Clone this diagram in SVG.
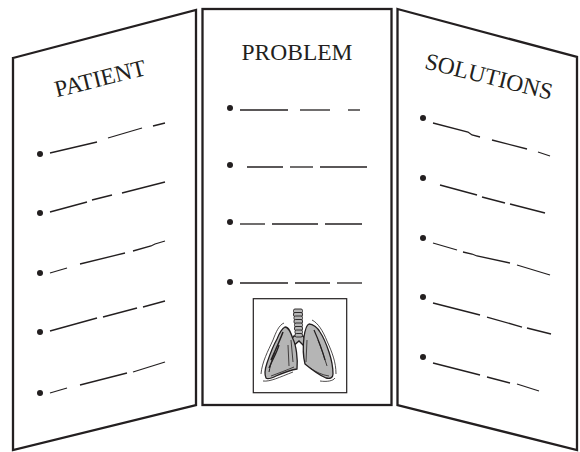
<svg xmlns="http://www.w3.org/2000/svg" width="580" height="452" viewBox="0 0 580 452">
<style>
.panel{fill:#fff;stroke:#231f20;stroke-width:2.3;stroke-linejoin:miter}
.t{font-family:"Liberation Serif","Times New Roman",serif;font-size:23.5px;fill:#231f20;text-anchor:middle}
.d{stroke:#231f20;stroke-width:1.3;fill:none;stroke-linecap:butt}
.b{fill:#231f20}
.lung{fill:#b5b5b5;stroke:#231f20;stroke-width:1.3}
.sk{stroke:#231f20;stroke-width:0.8;fill:none}
</style>
<rect width="580" height="452" fill="#fff"/>

<g id="panel-patient">
<polygon class="panel" points="13,58 196,10 196,405 13,450"/>
<text class="t" x="102" y="86" transform="rotate(-14 102 86)">PATIENT</text>
<g class="b">
<circle cx="40" cy="154" r="3"/><circle cx="40" cy="213" r="3"/><circle cx="40" cy="273" r="3"/><circle cx="40" cy="332" r="3"/><circle cx="40" cy="393" r="3"/>
</g>
<g class="d">
<line x1="50" y1="153" x2="97" y2="142"/><line x1="108" y1="138" x2="142" y2="128"/><line x1="153" y1="126" x2="165" y2="123"/>
<line x1="50" y1="212" x2="87" y2="202"/><line x1="92" y1="200" x2="112" y2="195"/><line x1="122" y1="193" x2="165" y2="182"/>
<line x1="50" y1="273" x2="67" y2="268"/><line x1="80" y1="264" x2="125" y2="253"/><polyline points="133,251 151,246 155,244 165,241"/>
<line x1="50" y1="331" x2="97" y2="318"/><line x1="103" y1="317" x2="137" y2="308"/><line x1="143" y1="307" x2="165" y2="301"/>
<line x1="50" y1="393" x2="67" y2="388"/><line x1="80" y1="385" x2="127" y2="373"/><line x1="133" y1="372" x2="165" y2="362"/>
</g>
</g>

<g id="panel-problem">
<rect class="panel" x="202.5" y="9" width="189" height="396" stroke-width="2.5"/>
<text class="t" x="297" y="60">PROBLEM</text>
<g class="b">
<circle cx="230" cy="108" r="3"/><circle cx="230" cy="165" r="3"/><circle cx="230" cy="222" r="3"/><circle cx="230" cy="282" r="3"/>
</g>
<g class="d">
<line x1="240" y1="110" x2="288" y2="110"/><line x1="300" y1="110" x2="330" y2="110"/><line x1="348" y1="110" x2="360" y2="110"/>
<line x1="247" y1="167" x2="283" y2="167"/><line x1="290" y1="167" x2="313" y2="167"/><line x1="320" y1="167" x2="367" y2="167"/>
<line x1="240" y1="224" x2="265" y2="224"/><line x1="272" y1="224" x2="318" y2="224"/><line x1="325" y1="224" x2="362" y2="224"/>
<line x1="240" y1="283" x2="288" y2="283"/><line x1="295" y1="283" x2="330" y2="283"/><line x1="337" y1="283" x2="362" y2="283"/>
</g>
</g>

<g id="lungs">
<rect x="253.3" y="298.7" width="93.4" height="94" fill="#fff" stroke="#231f20" stroke-width="1.2"/>
<path class="lung" d="M294,336 L303,336 L308,343 L305,347 L299,341 L292,347 L288,343 Z"/>
<g fill="#b5b5b5" stroke="#231f20" stroke-width="0.9">
<rect x="293.5" y="309" width="9" height="4" rx="1.5"/>
<rect x="293.5" y="312.5" width="9" height="4" rx="1.5"/>
<rect x="294" y="316" width="8.5" height="4" rx="1.5"/>
<rect x="294" y="319.5" width="8.5" height="4" rx="1.5"/>
<rect x="294.5" y="323" width="8" height="4" rx="1.5"/>
<rect x="294.5" y="326.5" width="8" height="4" rx="1.5"/>
<rect x="295" y="330" width="7.5" height="4" rx="1.5"/>
<rect x="295" y="333.5" width="7.5" height="3.5" rx="1.5"/>
</g>
<path class="lung" d="M285,327 C281,329 279,334 277,339 C273,346 270,354 267,363 C265,369 264,374 266,378 C268,380 272,378 276,376 C283,373 290,370 297,369 C298,358 296,345 293,339 C291,333 289,327 285,327 Z"/>
<path class="lung" d="M309,324 C313,324 318,328 320,332 C324,338 327,346 329,352 C331,358 333,366 333,374 C333,378 330,379 326,378 C319,375 311,369 305,364 C303,356 303,345 304,337 C305,330 306,325 309,324 Z"/>
<g class="sk">
<path d="M284,323 C279,325 276,332 273,340 C268,351 262,362 261,374"/>
<path d="M263,381 C270,382 280,377 293,372"/>
<path d="M312,320 C318,323 323,331 327,341 C332,352 336,362 336,374"/>
<path d="M320,381 C327,382 333,381 335,378"/>
<path d="M283,332 C280,340 276,349 271,360" stroke-width="1.5"/>
<path d="M279,345 C277,352 273,359 269,368" stroke-width="1.3"/>
<path d="M275,352 C273,357 271,362 269,372" stroke-width="1"/>
<path d="M291,340 L293,362"/>
<path d="M288,345 L289,366"/>
<path d="M307,340 L306,362"/>
<path d="M314,330 C318,339 322,349 325,360" stroke-width="1.2"/>
<path d="M318,340 C321,348 324,356 327,366"/>
<path d="M271,376 C279,373 287,370 294,367"/>
<path d="M310,368 C316,372 322,375 329,376"/>
</g>
</g>

<g id="panel-solutions">
<polygon class="panel" points="397.5,9 577,57 577,450 397.5,405"/>
<text class="t" x="487" y="84" transform="rotate(14 487 84)">SOLUTIONS</text>
<g class="b">
<circle cx="423" cy="118" r="3"/><circle cx="423" cy="178" r="3"/><circle cx="423" cy="238" r="3"/><circle cx="423" cy="297" r="3"/><circle cx="423" cy="357" r="3"/>
</g>
<g class="d">
<polyline points="433,123 468,132 472,135 480,137"/><line x1="492" y1="140" x2="527" y2="149"/><line x1="538" y1="152" x2="550" y2="156"/>
<line x1="440" y1="185" x2="477" y2="195"/><line x1="482" y1="197" x2="505" y2="203"/><line x1="510" y1="204" x2="545" y2="213"/>
<line x1="433" y1="243" x2="457" y2="250"/><polyline points="463,252 472,254 477,256 510,263"/><line x1="517" y1="265" x2="550" y2="275"/>
<line x1="433" y1="303" x2="480" y2="315"/><line x1="487" y1="317" x2="522" y2="327"/><line x1="527" y1="328" x2="551" y2="334"/>
<line x1="433" y1="363" x2="480" y2="375"/><line x1="487" y1="377" x2="510" y2="383"/><line x1="517" y1="384" x2="539" y2="391"/>
</g>
</g>
</svg>
